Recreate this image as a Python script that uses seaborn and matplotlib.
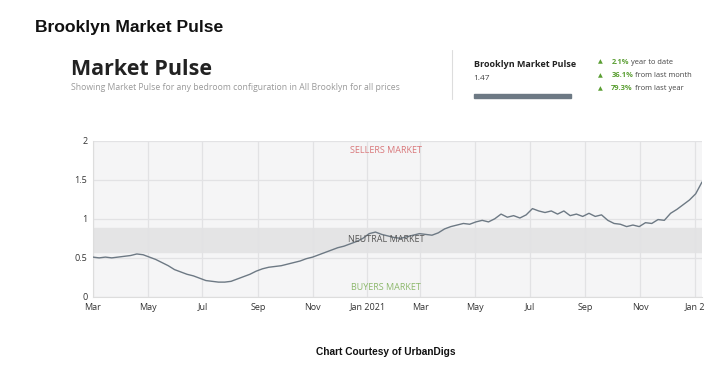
import matplotlib
matplotlib.use('Agg')
import matplotlib.pyplot as plt
import matplotlib.dates as mdates
from matplotlib.patches import Rectangle
from matplotlib.lines import Line2D
import seaborn as sns
import pandas as pd

# Weekly Market Pulse readings
START_DATE = '2020-03-01'
pulse = [
    0.51, 0.50, 0.51, 0.50, 0.51, 0.52, 0.53, 0.55, 0.54,          # Mar-Apr 2020
    0.51, 0.48, 0.44, 0.40, 0.35, 0.32, 0.29, 0.27, 0.24,          # May-Jun
    0.21, 0.20, 0.19, 0.19, 0.20, 0.23, 0.26, 0.29, 0.33,          # Jul-Aug
    0.36, 0.38, 0.39, 0.40, 0.42, 0.44, 0.46, 0.49,                # Sep-Oct
    0.51, 0.54, 0.57, 0.60, 0.63, 0.65, 0.68, 0.71, 0.75,          # Nov-Dec
    0.81, 0.83, 0.80, 0.78, 0.76, 0.75, 0.77, 0.79, 0.81,          # Jan-Feb 2021
    0.80, 0.79, 0.82, 0.87, 0.90, 0.92, 0.94, 0.93,                # Mar-Apr
    0.96, 0.98, 0.96, 1.00, 1.06, 1.02, 1.04, 1.01, 1.05,          # May-Jun
    1.13, 1.10, 1.08, 1.10, 1.06, 1.10, 1.04, 1.06, 1.03,          # Jul-Aug
    1.07, 1.03, 1.05, 0.98, 0.94, 0.93, 0.90, 0.92, 0.90,          # Sep-Oct
    0.95, 0.94, 0.99, 0.98, 1.07, 1.12, 1.18, 1.24, 1.32, 1.47,    # Nov 2021-Jan 2022
]
neutral_band = [0.58, 0.88]
zone_labels = ['SELLERS MARKET', 'NEUTRAL MARKET', 'BUYERS MARKET']
zone_values = [1.87, 0.73, 0.12]
zone_colors = ['#d9777a', '#555555', '#8cb86b']
y_ticks = [0, 0.5, 1, 1.5, 2]
y_ticklabels = ['0', '0.5', '1', '1.5', '2']
stats_pct = ['2.1%', '36.1%', '79.3%']
stats_text = ['year to date', 'from last month', 'from last year']

df = pd.DataFrame({
    'date': pd.date_range(START_DATE, periods=len(pulse), freq='7D'),
    'pulse': pulse,
})

sns.set_theme(style='white')
plt.rcParams['font.family'] = ['Open Sans', 'DejaVu Sans']

fig = plt.figure(figsize=(7.2, 3.68), dpi=100)
ax = fig.add_axes([0.129, 0.193, 0.846, 0.425])
ax.set_facecolor('#f5f5f6')

ax.axhspan(neutral_band[0], neutral_band[1], color='#e4e4e5', zorder=0)
sns.lineplot(data=df, x='date', y='pulse', ax=ax, color='#6d7984', linewidth=1.0, zorder=3)

ax.set_ylim(0, 2)
ax.set_xlim(pd.Timestamp('2020-03-01'), df['date'].iloc[-1])
ax.set_yticks(y_ticks)
ax.set_yticklabels(y_ticklabels)
ax.xaxis.set_major_locator(mdates.MonthLocator(bymonth=[1, 3, 5, 7, 9, 11]))

def fmt(x, pos=None):
    d = mdates.num2date(x)
    if d.month == 1:
        return 'Jan 2021' if d.year == 2021 else 'Jan 2'
    return d.strftime('%b')

ax.xaxis.set_major_formatter(plt.FuncFormatter(fmt))
ax.grid(True, color='#e2e2e4', linewidth=0.9)
ax.tick_params(axis='both', labelsize=6.5, colors='#333333', length=0, pad=4)
ax.set_xlabel('')
ax.set_ylabel('')
for side in ['top', 'right']:
    ax.spines[side].set_visible(False)
for side in ['left', 'bottom']:
    ax.spines[side].set_color('#dddddd')
    ax.spines[side].set_linewidth(0.8)

label_x = pd.Timestamp('2021-01-22')
for lab, val, col in zip(zone_labels, zone_values, zone_colors):
    ax.text(label_x, val, lab, color=col, fontsize=6.5, ha='center', va='center', zorder=4)

# headers
fig.text(0.048, 0.912, 'Brooklyn Market Pulse', fontsize=12.6, fontweight='bold',
         family=['Liberation Sans', 'DejaVu Sans'], color='#111111')
fig.text(0.099, 0.797, 'Market Pulse', fontsize=15.5, fontweight='bold', color='#222222')
fig.text(0.099, 0.755, 'Showing Market Pulse for any bedroom configuration in All Brooklyn for all prices',
         fontsize=6.2, color='#999999')

# right summary panel
fig.add_artist(Line2D([0.628, 0.628], [0.73, 0.865], color='#dddddd', linewidth=0.8))
fig.text(0.658, 0.818, 'Brooklyn Market Pulse', fontsize=6.5, fontweight='bold', color='#222222')
fig.text(0.658, 0.782, '1.47', fontsize=6, color='#444444')
fig.add_artist(Rectangle((0.658, 0.734), 0.135, 0.011, color='#6d7984', transform=fig.transFigure))
for i, (p, t) in enumerate(zip(stats_pct, stats_text)):
    y = 0.831 - i * 0.036
    fig.text(0.831, y, '\u25b2', fontsize=4.5, color='#5a9e32', va='center', family='DejaVu Sans')
    pt = fig.text(0.849, y, p, fontsize=5.4, fontweight='bold', color='#5a9e32', va='center')
    fig.canvas.draw()
    bb = pt.get_window_extent().transformed(fig.transFigure.inverted())
    fig.text(bb.x1 + 0.003, y, t, fontsize=5.4, color='#444444', va='center')

fig.text(0.536, 0.036, 'Chart Courtesy of UrbanDigs', fontsize=7.3, fontweight='bold',
         family=['Liberation Sans', 'DejaVu Sans'], color='#111111', ha='center')

fig.savefig('out.png', dpi=100, facecolor='white')
